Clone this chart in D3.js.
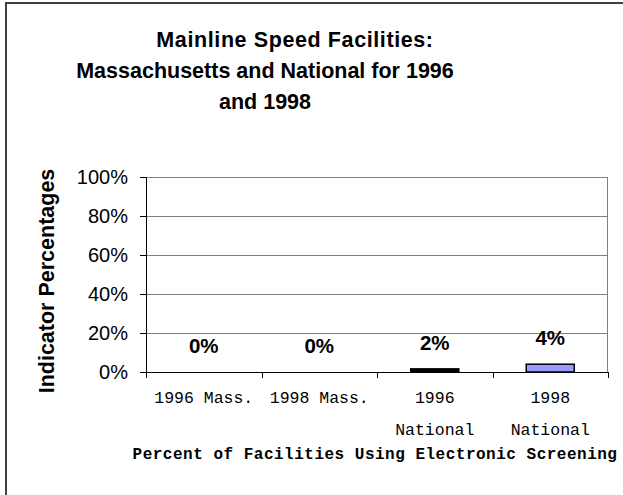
<!DOCTYPE html>
<html>
<head>
<meta charset="utf-8">
<script src="https://cdn.jsdelivr.net/npm/d3@7"></script>
<style>
  body { margin: 0; background: #fff; }
  svg { display: block; }
</style>
</head>
<body>
<div id="chart"></div>
<script>
// chart data
var categories = ["1996 Mass.", "1998 Mass.", "1996 National", "1998 National"];
var categoryLines = [["1996 Mass."], ["1998 Mass."], ["1996", "National"], ["1998", "National"]];
var values = [0, 0, 0.016, 0.04];
var barColors = ["#9999ff", "#9999ff", "#000000", "#9999ff"];
var yTicks = [0, 0.2, 0.4, 0.6, 0.8, 1];
var titleLines = ["Mainline Speed Facilities:", "Massachusetts and National for 1996", "and 1998"];
var yTitle = "Indicator Percentages";
var xTitle = "Percent of Facilities Using Electronic Screening";

var width = 623, height = 495;
var margin = {top: 177, right: 15, bottom: 123, left: 146};
var plotW = width - margin.left - margin.right;
var plotH = height - margin.top - margin.bottom;

var sans = "'Liberation Sans', Arial, sans-serif";
var mono = "'Courier New', 'Liberation Mono', monospace";
var pct = d3.format(".0%");

var svg = d3.select("#chart")
    .append("svg")
    .attr("width", width)
    .attr("height", height);

// outer frame (right and bottom edges fall outside the picture)
svg.append("rect")
    .attr("x", 6).attr("y", 3)
    .attr("width", 700).attr("height", 600)
    .attr("fill", "none")
    .attr("stroke", "#404040")
    .attr("stroke-width", 2);

// title
var titleX = [295, 265, 265];
var titleSpacing = [0.6, 0, 0];
svg.append("g").selectAll("text")
    .data(titleLines)
    .enter()
    .append("text")
    .attr("x", function(d, i) { return titleX[i]; })
    .attr("y", function(d, i) { return 47 + i * 31; })
    .attr("text-anchor", "middle")
    .style("font-family", sans)
    .style("font-weight", "bold")
    .style("font-size", "21.5px")
    .style("letter-spacing", function(d, i) { return titleSpacing[i] + "px"; })
    .text(function(d) { return d; });

var g = svg.append("g")
    .attr("transform", "translate(" + margin.left + "," + margin.top + ")");

var x = d3.scaleBand()
    .domain(categories)
    .range([0, plotW])
    .paddingInner(0.584)
    .paddingOuter(0.292);

var y = d3.scaleLinear()
    .domain([0, 1])
    .range([plotH, 0]);

// gridlines
g.append("g").selectAll("line")
    .data(yTicks.slice(1))
    .enter()
    .append("line")
    .attr("x1", 0).attr("x2", plotW)
    .attr("y1", function(d) { return Math.round(y(d)) + 0.5; })
    .attr("y2", function(d) { return Math.round(y(d)) + 0.5; })
    .attr("stroke", "#808080")
    .attr("stroke-width", 1);

// right edge of plot area
g.append("line")
    .attr("x1", plotW - 0.5).attr("x2", plotW - 0.5)
    .attr("y1", 0).attr("y2", plotH)
    .attr("stroke", "#808080");

// bars
g.append("g").selectAll("rect")
    .data(values)
    .enter()
    .append("rect")
    .attr("x", function(d, i) { return x(categories[i]); })
    .attr("y", function(d) { return y(d); })
    .attr("width", x.bandwidth())
    .attr("height", function(d) { return plotH - y(d); })
    .attr("fill", function(d, i) { return barColors[i]; })
    .attr("stroke", "#000")
    .attr("stroke-width", function(d) { return d > 0 ? 1.5 : 0; });

// data labels
g.append("g").selectAll("text")
    .data(values)
    .enter()
    .append("text")
    .attr("x", function(d, i) { return x(categories[i]) + x.bandwidth() / 2; })
    .attr("y", function(d) { return y(d) - 19; })
    .attr("text-anchor", "middle")
    .style("font-family", sans)
    .style("font-weight", "bold")
    .style("font-size", "20.5px")
    .text(function(d) { return pct(d); });

// y axis
var yAxis = d3.axisLeft(y)
    .tickValues(yTicks)
    .tickFormat(pct)
    .tickSize(6)
    .tickPadding(12);

var yg = g.append("g").call(yAxis);
yg.select(".domain").attr("stroke", "#000");
yg.selectAll(".tick line").attr("stroke", "#000");
yg.selectAll(".tick text")
    .style("font-family", sans)
    .style("font-size", "20px")
    .attr("fill", "#000");

// x axis: ticks at category boundaries
var step = x.step();
var bounds = d3.range(categories.length + 1).map(function(i) { return i * step; });

g.append("line")
    .attr("x1", 0).attr("x2", plotW)
    .attr("y1", plotH + 0.5).attr("y2", plotH + 0.5)
    .attr("stroke", "#000");

g.append("g").selectAll("line")
    .data(bounds)
    .enter()
    .append("line")
    .attr("x1", function(d) { return Math.round(d) + 0.5; })
    .attr("x2", function(d) { return Math.round(d) + 0.5; })
    .attr("y1", plotH)
    .attr("y2", plotH + 6)
    .attr("stroke", "#000");

var xl = g.append("g").selectAll("text")
    .data(categoryLines)
    .enter()
    .append("text")
    .attr("x", function(d, i) { return x(categories[i]) + x.bandwidth() / 2; })
    .attr("y", plotH + 31)
    .attr("text-anchor", "middle")
    .style("font-family", mono)
    .style("font-size", "16.5px");

xl.selectAll("tspan")
    .data(function(d) { return d; })
    .enter()
    .append("tspan")
    .attr("x", function() { return d3.select(this.parentNode).attr("x"); })
    .attr("dy", function(d, i) { return i === 0 ? 0 : 32; })
    .text(function(d) { return d; });

// axis titles
svg.append("text")
    .attr("transform", "translate(54,281) rotate(-90)")
    .attr("text-anchor", "middle")
    .style("font-family", sans)
    .style("font-weight", "bold")
    .style("font-size", "21.5px")
    .text(yTitle);

svg.append("text")
    .attr("x", 375)
    .attr("y", 459)
    .attr("text-anchor", "middle")
    .style("font-family", mono)
    .style("font-weight", "bold")
    .style("font-size", "16px")
    .style("letter-spacing", "0.5px")
    .text(xTitle);
</script>
</body>
</html>
